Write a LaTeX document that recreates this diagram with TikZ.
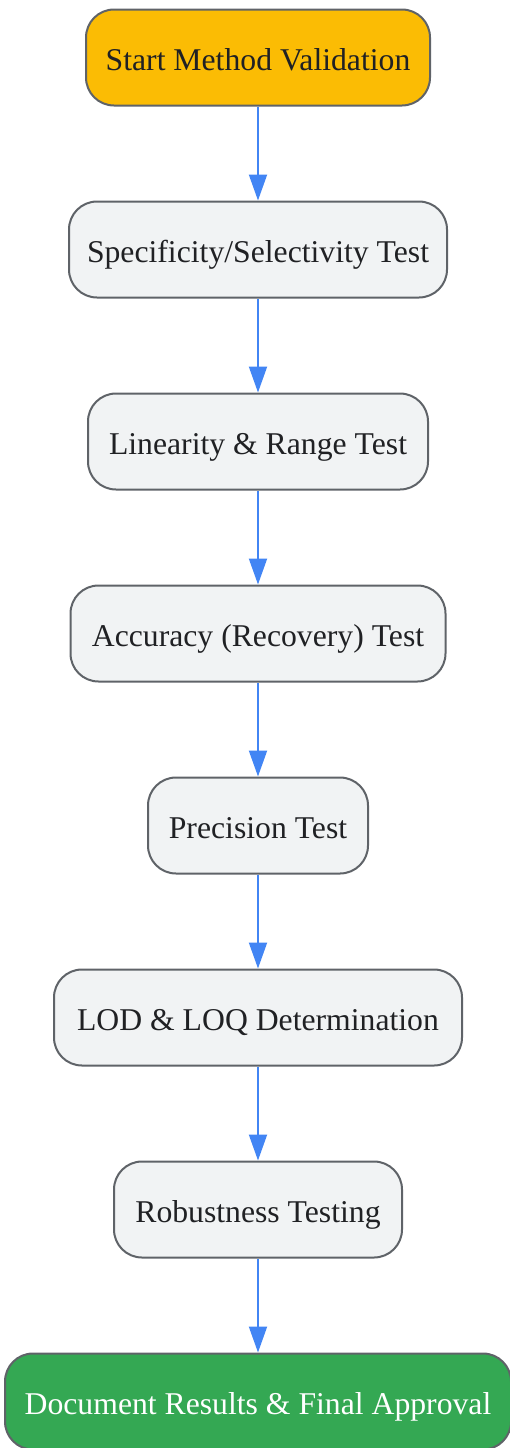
\documentclass[tikz,border=0pt]{standalone}
\usepackage{fontspec}
\setmainfont{Liberation Serif}
\usetikzlibrary{arrows.meta}
\definecolor{nodefill}{HTML}{F1F3F4}
\definecolor{nodeborder}{HTML}{5F6368}
\definecolor{startfill}{HTML}{FBBC04}
\definecolor{endfill}{HTML}{34A853}
\definecolor{arrowblue}{HTML}{4285F4}
\definecolor{textdark}{HTML}{202124}
\begin{document}
\begin{tikzpicture}[x=1pt,y=-1pt,
  stepbox/.style={draw=nodeborder, line width=2pt, fill=nodefill, rounded corners=28pt,
    minimum height=96pt, inner sep=0pt, text=textdark, text height=25pt, text depth=0pt,
    font=\fontsize{31.7}{36}\selectfont},
  startbox/.style={stepbox, fill=startfill},
  endbox/.style={stepbox, fill=endfill, text=white},
  flow/.style={draw=arrowblue, line width=2pt, -{Triangle[length=26pt,width=18pt]}}]
\useasboundingbox (0,0) rectangle (509,1448);
\node[startbox, minimum width=344pt] (n1) at (258,57.5) {Start Method Validation};
\node[stepbox, minimum width=378pt] (n2) at (258,249.5) {Specificity/Selectivity Test};
\node[stepbox, minimum width=340pt] (n3) at (258,441.5) {Linearity \& Range Test};
\node[stepbox, minimum width=375pt] (n4) at (258,633.5) {Accuracy (Recovery) Test};
\node[stepbox, minimum width=220pt] (n5) at (258,825.5) {Precision Test};
\node[stepbox, minimum width=408pt] (n6) at (258,1017.5) {LOD \& LOQ Determination};
\node[stepbox, minimum width=288pt] (n7) at (258,1209.5) {Robustness Testing};
\node[endbox, minimum width=506pt] (n8) at (258,1401.5) {Document Results \& Final Approval};
\foreach \a/\b in {n1/n2,n2/n3,n3/n4,n4/n5,n5/n6,n6/n7,n7/n8}
  \draw[flow] (\a) -- (\b);
\end{tikzpicture}
\end{document}
